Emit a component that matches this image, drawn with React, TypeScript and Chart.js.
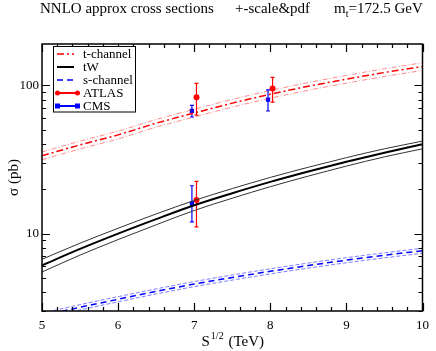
import React, { useEffect, useRef } from "react";
import { Chart, registerables } from "chart.js";

Chart.register(...registerables);

// ---- data ----
const energies = [5, 5.5, 6, 6.5, 7, 7.5, 8, 8.5, 9, 9.5, 10];

const tChannel = [33.5, 39.6, 46.3, 55.5, 65.0, 75.8, 87.0, 98.5, 110.0, 122.0, 134.0];
const tChannelUp = [35.5, 42.0, 49.1, 58.8, 68.9, 80.3, 92.2, 104.4, 116.6, 129.3, 142.0];
const tChannelDown = [31.5, 37.2, 43.5, 52.2, 61.1, 71.3, 81.8, 92.6, 103.4, 114.7, 126.0];

const tW = [6.1, 7.87, 9.98, 12.5, 15.5, 18.7, 22.3, 26.2, 30.5, 35.1, 40.0];
const tWUp = [6.7, 8.6, 10.85, 13.55, 16.7, 20.1, 23.9, 28.0, 32.5, 37.3, 42.0];
const tWDown = [5.5, 7.15, 9.1, 11.45, 14.3, 17.3, 20.7, 24.4, 28.5, 32.9, 37.3];

const sChannel = [2.78, 3.18, 3.6, 4.07, 4.56, 5.05, 5.56, 6.08, 6.61, 7.13, 7.66];
const sChannelUp = [2.9, 3.31, 3.75, 4.23, 4.74, 5.25, 5.78, 6.32, 6.87, 7.41, 7.96];
const sChannelDown = [2.67, 3.05, 3.46, 3.91, 4.38, 4.85, 5.34, 5.84, 6.35, 6.85, 7.36];

// measurements: x, y, error up, error down
const atlasX = [7.03, 8.03, 7.03];
const atlasY = [83, 95, 16.8];
const atlasErrUp = [20, 18, 5.7];
const atlasErrDown = [20, 18, 5.7];

const cmsX = [6.97, 7.97, 6.97];
const cmsY = [67.2, 80.1, 16.0];
const cmsErrUp = [6.1, 13, 5];
const cmsErrDown = [6.1, 13, 4];

const xMajorTicks = [5, 6, 7, 8, 9, 10];
const yMajorTicks = [10, 100];

const legendLabels = ["t-channel", "tW", "s-channel", "ATLAS", "CMS"];

const SERIF = '"Liberation Serif", "Times New Roman", serif';
const RED = "#ff0000";
const BLUE = "#0000ff";

const pts = (ys: number[]) => energies.map((x, i) => ({ x, y: ys[i] }));

function curve(data: number[], color: string, width: number, dash: number[]) {
  return {
    type: "line" as const,
    data: pts(data),
    showLine: true,
    borderColor: color,
    borderWidth: width,
    borderDash: dash,
    pointRadius: 0,
    fill: false,
    tension: 0.4,
    cubicInterpolationMode: "monotone" as const,
  };
}

const decorPlugin = {
  id: "decor",
  beforeDatasetsDraw(chart: any) {
    const ctx = chart.ctx;
    const xs = chart.scales.x;
    const ys = chart.scales.y;
    ctx.save();
    ctx.lineWidth = 1.2;
    const bars = (X: number[], Y: number[], up: number[], dn: number[], col: string) => {
      ctx.strokeStyle = col;
      X.forEach((x, i) => {
        const px = xs.getPixelForValue(x);
        const top = ys.getPixelForValue(Y[i] + up[i]);
        const bot = ys.getPixelForValue(Y[i] - dn[i]);
        ctx.beginPath();
        ctx.moveTo(px, top);
        ctx.lineTo(px, bot);
        ctx.moveTo(px - 2, top);
        ctx.lineTo(px + 2, top);
        ctx.moveTo(px - 2, bot);
        ctx.lineTo(px + 2, bot);
        ctx.stroke();
      });
    };
    bars(cmsX, cmsY, cmsErrUp, cmsErrDown, BLUE);
    bars(atlasX, atlasY, atlasErrUp, atlasErrDown, RED);
    ctx.restore();
  },
  afterDraw(chart: any) {
    const ctx = chart.ctx;
    const a = chart.chartArea;
    const xs = chart.scales.x;
    const ys = chart.scales.y;
    ctx.save();
    // frame
    ctx.strokeStyle = "#000";
    ctx.lineWidth = 1.5;
    ctx.setLineDash([]);
    ctx.strokeRect(a.left, a.top, a.right - a.left, a.bottom - a.top);
    // x ticks
    ctx.lineWidth = 1.2;
    ctx.beginPath();
    for (let i = 0; i <= 25; i++) {
      const v = 5 + i * 0.2;
      const major = xMajorTicks.some((m) => Math.abs(m - v) < 1e-6);
      const len = major ? 8 : 4;
      const px = Math.round(xs.getPixelForValue(v)) + 0.5;
      ctx.moveTo(px, a.bottom);
      ctx.lineTo(px, a.bottom - len);
      ctx.moveTo(px, a.top);
      ctx.lineTo(px, a.top + len);
    }
    // y ticks
    const yvals: number[] = [];
    for (let d = 1; d <= 100; d *= 10) {
      for (let k = 1; k <= 9; k++) yvals.push(k * d);
    }
    yvals.forEach((v) => {
      if (v < ys.min || v > ys.max) return;
      const major = yMajorTicks.includes(v);
      const len = major ? 8 : 4;
      const py = Math.round(ys.getPixelForValue(v)) + 0.5;
      ctx.moveTo(a.left, py);
      ctx.lineTo(a.left + len, py);
      ctx.moveTo(a.right, py);
      ctx.lineTo(a.right - len, py);
    });
    ctx.stroke();

    // title
    ctx.fillStyle = "#000";
    ctx.textBaseline = "alphabetic";
    ctx.textAlign = "left";
    ctx.font = `15px ${SERIF}`;
    ctx.fillText("NNLO approx cross sections", 40, 13);
    ctx.fillText("+-scale&pdf", 235, 13);
    let tx = 334;
    ctx.fillText("m", tx, 13);
    tx += ctx.measureText("m").width;
    ctx.font = `10px ${SERIF}`;
    ctx.fillText("t", tx, 17);
    tx += ctx.measureText("t").width;
    ctx.font = `15px ${SERIF}`;
    ctx.fillText("=172.5 GeV", tx, 13);

    // x axis title
    ctx.font = `15px ${SERIF}`;
    const wS = ctx.measureText("S").width;
    const wT = ctx.measureText(" (TeV)").width;
    ctx.font = `10px ${SERIF}`;
    const wE = ctx.measureText("1/2").width + 1;
    let cx = (a.left + a.right) / 2 - (wS + wE + wT) / 2;
    const base = 346;
    ctx.font = `15px ${SERIF}`;
    ctx.fillText("S", cx, base);
    cx += wS + 1;
    ctx.font = `10px ${SERIF}`;
    ctx.fillText("1/2", cx, base - 7);
    cx += wE;
    ctx.font = `15px ${SERIF}`;
    ctx.fillText(" (TeV)", cx, base);

    // y axis title
    ctx.save();
    ctx.translate(18, (a.top + a.bottom) / 2);
    ctx.rotate(-Math.PI / 2);
    ctx.textAlign = "center";
    ctx.font = `15px ${SERIF}`;
    ctx.fillText("σ (pb)", 0, 0);
    ctx.restore();

    // legend
    const lx = 53.5, ly = 46.5, lw = 82, lh = 65.5;
    ctx.fillStyle = "#fff";
    ctx.fillRect(lx, ly, lw, lh);
    ctx.strokeStyle = "#000";
    ctx.lineWidth = 1;
    ctx.strokeRect(lx, ly, lw, lh);
    const rows = [54, 67, 80, 93, 106];
    const styles = [
      { c: RED, w: 1.5, d: [7, 3, 2, 3] },
      { c: "#000", w: 2, d: [] },
      { c: BLUE, w: 1.5, d: [6, 4] },
      { c: RED, w: 2, d: [] },
      { c: BLUE, w: 2, d: [] },
    ];
    legendLabels.forEach((lab, i) => {
      const y = rows[i];
      const s = styles[i];
      ctx.strokeStyle = s.c;
      ctx.lineWidth = s.w;
      ctx.setLineDash(s.d);
      ctx.beginPath();
      ctx.moveTo(57, y);
      ctx.lineTo(i >= 3 ? 78 : 74, y);
      ctx.stroke();
      ctx.setLineDash([]);
      if (i === 3) {
        ctx.fillStyle = RED;
        [57.5, 77.5].forEach((px) => {
          ctx.beginPath();
          ctx.arc(px, y, 2.5, 0, Math.PI * 2);
          ctx.fill();
        });
      }
      if (i === 4) {
        ctx.fillStyle = BLUE;
        [57.5, 77.5].forEach((px) => ctx.fillRect(px - 2.5, y - 2.5, 5, 5));
      }
      ctx.fillStyle = "#000";
      ctx.font = `13px ${SERIF}`;
      ctx.textBaseline = "middle";
      ctx.fillText(lab, 83, y + 0.5);
    });
    ctx.restore();
  },
};

export default function App() {
  const ref = useRef<HTMLCanvasElement>(null);
  useEffect(() => {
    const chart = new Chart(ref.current as HTMLCanvasElement, {
      type: "scatter",
      data: {
        datasets: [
          curve(tChannelUp, "rgba(255,0,0,0.45)", 1, [5, 2, 1, 2]),
          curve(tChannelDown, "rgba(255,0,0,0.45)", 1, [5, 2, 1, 2]),
          curve(tChannel, RED, 1.5, [7, 3, 2, 3]),
          curve(tWUp, "#333", 1, []),
          curve(tWDown, "#333", 1, []),
          curve(tW, "#000", 2, []),
          curve(sChannelUp, "rgba(0,0,255,0.5)", 1, [4, 2]),
          curve(sChannelDown, "rgba(0,0,255,0.5)", 1, [4, 2]),
          curve(sChannel, BLUE, 1.5, [6, 4]),
          {
            type: "scatter" as const,
            data: cmsX.map((x, i) => ({ x, y: cmsY[i] })),
            pointStyle: "rect",
            pointRadius: 3,
            backgroundColor: BLUE,
            borderColor: BLUE,
            borderWidth: 0,
            showLine: false,
          },
          {
            type: "scatter" as const,
            data: atlasX.map((x, i) => ({ x, y: atlasY[i] })),
            pointStyle: "circle",
            pointRadius: 3,
            backgroundColor: RED,
            borderColor: RED,
            borderWidth: 0,
            showLine: false,
          },
        ] as any,
      },
      options: {
        responsive: false,
        animation: false,
        devicePixelRatio: 1,
        layout: { padding: { left: 0, right: 8, top: 44, bottom: 0 } },
        plugins: {
          legend: { display: false },
          tooltip: { enabled: false },
          title: { display: false },
        },
        scales: {
          x: {
            type: "linear",
            min: 5,
            max: 10,
            grid: { display: false, drawTicks: false },
            border: { display: false },
            ticks: {
              stepSize: 1,
              padding: 7,
              color: "#000",
              font: { family: SERIF, size: 13 },
              maxRotation: 0,
            },
            afterBuildTicks: (s: any) => {
              s.ticks = xMajorTicks.map((v) => ({ value: v }));
            },
            afterFit: (s: any) => {
              s.height = 40;
            },
          },
          y: {
            type: "logarithmic",
            min: 3,
            max: 190,
            grid: { display: false, drawTicks: false },
            border: { display: false },
            ticks: {
              padding: 3,
              color: "#000",
              font: { family: SERIF, size: 13 },
              callback: (v: any) => String(v),
            },
            afterBuildTicks: (s: any) => {
              s.ticks = yMajorTicks.map((v) => ({ value: v }));
            },
            afterFit: (s: any) => {
              s.width = 42;
            },
          },
        },
      } as any,
      plugins: [decorPlugin],
    });
    return () => chart.destroy();
  }, []);
  return (
    <div style={{ position: "absolute", left: 0, top: 0, width: 436, height: 351, background: "#fff" }}>
      <canvas ref={ref} width={436} height={351} style={{ width: 436, height: 351, display: "block" }} />
    </div>
  );
}
